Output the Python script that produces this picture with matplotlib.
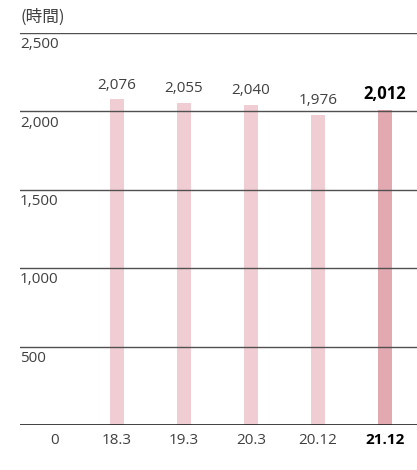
import matplotlib
matplotlib.use("Agg")
import matplotlib.pyplot as plt
from matplotlib.transforms import blended_transform_factory, offset_copy

# data
periods = ["18.3", "19.3", "20.3", "20.12", "21.12"]
hours = [2076, 2055, 2040, 1976, 2012]
yticks = [500, 1000, 1500, 2000, 2500]
unit_label = "(時間)"

plt.rcParams["font.family"] = ["Open Sans", "Noto Sans CJK JP", "DejaVu Sans"]

LIGHT = "#f0cdd2"
DARK = "#e2a9b0"
TEXT = "#404040"

fig = plt.figure(figsize=(4.17, 4.70), dpi=100)
ax = fig.add_axes([20 / 417, 45 / 470, 397 / 417, 392 / 470])
ax.set_xlim(-1.448, 4.478)
ax.set_ylim(0, 2500)
ax.axis("off")

xs = list(range(len(periods)))
colors = [LIGHT] * (len(periods) - 1) + [DARK]
ax.bar(xs, hours, width=0.21, color=colors, zorder=1)

# horizontal rules
for v in yticks:
    ax.axhline(v, color="#505050", lw=1.0, zorder=2)
ax.axhline(0, color="#202020", lw=1.2, zorder=2)

# y labels, just below each rule at the left edge
ytrans = blended_transform_factory(ax.transAxes, ax.transData)
for v in yticks:
    ax.text(0.0, v, f"{v:,}", transform=offset_copy(ytrans, fig=fig, y=-3, units="points"),
            ha="left", va="top", fontsize=11, color=TEXT)

# value labels
last = len(periods) - 1
for i, (x, h) in enumerate(zip(xs, hours)):
    bold = i == last
    ax.annotate(f"{h:,}", (x, h), xytext=(0, 5), textcoords="offset points",
                ha="center", va="bottom", fontsize=12 if bold else 11,
                fontweight="bold" if bold else "normal",
                color="black" if bold else TEXT)

# category labels under the baseline
for i, (x, p) in enumerate(zip(xs, periods)):
    bold = i == last
    ax.annotate(p, (x, 0), xytext=(0, -6), textcoords="offset points",
                ha="center", va="top", fontsize=11,
                fontweight="bold" if bold else "normal",
                color="black" if bold else TEXT)
ax.annotate("0", (-0.93, 0), xytext=(0, -6), textcoords="offset points",
            ha="center", va="top", fontsize=11, color=TEXT)

fig.text(20 / 417, 1 - 17 / 470, unit_label, ha="left", va="center",
         fontsize=12, color=TEXT, family=["Noto Sans CJK JP", "DejaVu Sans"])

fig.savefig("out.png", dpi=100)
